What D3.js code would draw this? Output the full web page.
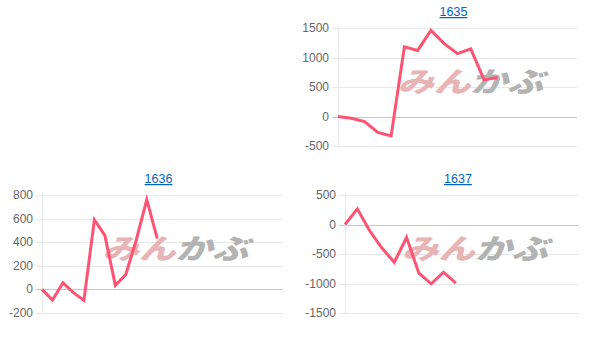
<!DOCTYPE html>
<html>
<head>
<meta charset="utf-8">
<script src="https://cdn.jsdelivr.net/npm/d3@7"></script>
<style>
  body { margin: 0; background: #fff; }
  svg { display: block; }
</style>
</head>
<body>
<svg id="chart" width="606" height="340"></svg>
<script>
// values
const titles = ["1635", "1636", "1637"];
const values1635 = [0, -30, -85, -270, -330, 1180, 1120, 1460, 1235, 1065, 1145, 620, 660];
const values1636 = [0, -90, 56, -28, -93, 590, 458, 34, 126, 421, 760, 430];
const values1637 = [0, 265, -107, -400, -640, -220, -825, -1005, -808, -995];
const ticks1635 = [-500, 0, 500, 1000, 1500];
const ticks1636 = [-200, 0, 200, 400, 600, 800];
const ticks1637 = [-1500, -1000, -500, 0, 500];
const slots = [18, 23, 19];   // x slots on each axis

const panels = [
  { title: titles[0], values: values1635, ticks: ticks1635, slots: slots[0], x0: 338, x1: 577, y0: 28, y1: 146, titleY: 16 },
  { title: titles[1], values: values1636, ticks: ticks1636, slots: slots[1], x0: 42, x1: 283, y0: 195, y1: 313, titleY: 183 },
  { title: titles[2], values: values1637, ticks: ticks1637, slots: slots[2], x0: 345, x1: 579, y0: 195, y1: 313, titleY: 183 }
];

const svg = d3.select("#chart");

panels.forEach(function(p) {
  let x = d3.scaleLinear().domain([0, p.slots]).range([p.x0, p.x1]);
  let y = d3.scaleLinear().domain(d3.extent(p.ticks)).range([p.y1, p.y0]);
  let g = svg.append("g");

  // title link
  g.append("text")
    .attr("x", (p.x0 + p.x1) / 2 - 4)
    .attr("y", p.titleY)
    .attr("text-anchor", "middle")
    .attr("font-family", "Liberation Sans, Arial, sans-serif")
    .attr("font-size", 12.5)
    .attr("fill", "#0563c1")
    .attr("text-decoration", "underline")
    .text(p.title);

  // grid
  g.selectAll("line.grid")
    .data(p.ticks)
    .enter().append("line")
    .attr("x1", p.x0 - 6).attr("x2", p.x1)
    .attr("y1", d => Math.round(y(d)) + 0.5).attr("y2", d => Math.round(y(d)) + 0.5)
    .attr("stroke", d => d === 0 ? "#c8c8c8" : "#e8e8e8")
    .attr("stroke-width", 1);

  g.append("line")
    .attr("x1", p.x0 + 0.5).attr("x2", p.x0 + 0.5)
    .attr("y1", p.y0 - 2).attr("y2", p.y1)
    .attr("stroke", "#e8e8e8");

  g.selectAll("text.tick")
    .data(p.ticks)
    .enter().append("text")
    .attr("x", p.x0 - 9)
    .attr("y", d => y(d) + 4)
    .attr("text-anchor", "end")
    .attr("font-family", "Liberation Sans, Arial, sans-serif")
    .attr("font-size", 12)
    .attr("fill", "#666")
    .text(d => d);

  // watermark
  let cx = (p.x0 + p.x1) / 2 + 12, cy = (p.y0 + p.y1) / 2 - 6;
  let wm = g.append("text")
    .attr("x", cx - 72)
    .attr("y", cy + 11)
    .attr("font-family", "Noto Sans CJK JP, sans-serif")
    .attr("font-weight", 900)
    .attr("font-style", "italic")
    .attr("font-size", 28)
    .attr("textLength", 146)
    .attr("lengthAdjust", "spacingAndGlyphs");
  wm.append("tspan").attr("fill", "#e9b4b6").text("みん");
  wm.append("tspan").attr("fill", "#b3b3b3").text("かぶ");

  // series line
  let line = d3.line()
    .x((d, i) => x(i))
    .y(d => y(d));
  g.append("path")
    .datum(p.values)
    .attr("d", line)
    .attr("fill", "none")
    .attr("stroke", "#ff5373")
    .attr("stroke-width", 3)
    .attr("stroke-linejoin", "miter");
});
</script>
</body>
</html>
